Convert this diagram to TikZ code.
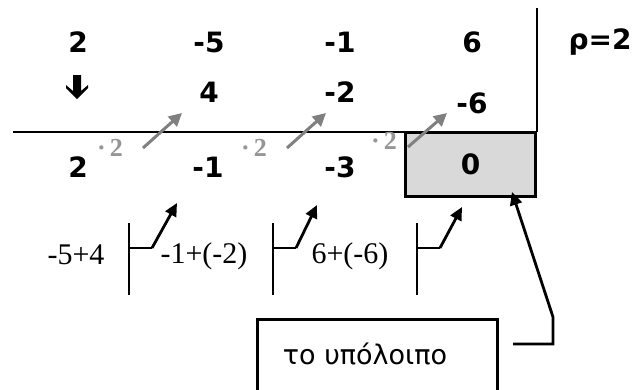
\documentclass[tikz,border=0pt]{standalone}
\usepackage{fontspec}
\setmainfont{Liberation Serif}
\newfontfamily\numfont{DejaVu Sans}
\newfontfamily\dvfont{DejaVu Sans}
\usetikzlibrary{arrows.meta}
\definecolor{arrgray}{RGB}{128,128,128}
\definecolor{lbgray}{RGB}{150,150,150}
\definecolor{boxgray}{RGB}{217,217,217}
\begin{document}
\begin{tikzpicture}[x=1pt,y=-1pt,
  num/.style={font=\numfont\bfseries\fontsize{28}{32}\selectfont, inner sep=0pt},
  mul/.style={font=\fontsize{26}{30}\selectfont\bfseries, text=lbgray, inner sep=0pt},
  sumlbl/.style={font=\fontsize{30}{34}\selectfont, inner sep=0pt},
  grayarr/.style={draw=arrgray, line width=3pt, -{Triangle[length=13pt,width=13pt]}},
  blackarr/.style={draw=black, line width=2.8pt, -{Triangle[length=13pt,width=12pt]}},
  bracket/.style={draw=black, line width=2.8pt},
  rule/.style={draw=black, line width=2.5pt}]
\useasboundingbox (0,0) rectangle (641,389);
% top row
\node[num] (t1) at (78,42) {2};
\node[num] (t2) at (209,42) {-5};
\node[num] (t3) at (340,42) {-1};
\node[num] (t4) at (472,42) {6};
\node[num] (rho) at (600,42) {ρ=2};
% middle row
\node[num] (m2) at (209,92) {4};
\node[num] (m3) at (340,92) {-2};
\node[num] (m4) at (472,103) {-6};
% down arrow
\fill (73,75) -- (81,75) -- (81,91) -- (88,85) -- (88,88) -- (77,99) -- (66,88) -- (66,85) -- (73,91) -- cycle;
% rules
\coordinate (hl) at (13,132);
\coordinate (hr) at (537,132);
\coordinate (vt) at (537,8);
\draw[rule] (hl) -- (hr);
\draw[rule] (vt) -- (hr);
% bottom row
\node[num] (b1) at (78,167) {2};
\node[num] (b2) at (208,167) {-1};
\node[num] (b3) at (340,167) {-3};
\node[num, draw=black, line width=3pt, fill=boxgray, minimum width=130pt, minimum height=64pt] (rem) at (470.5,164.5) {0};
% multipliers
\node[mul] (g1) at (110,148) {·\hspace{4pt}2};
\node[mul] (g2) at (254,148) {·\hspace{4pt}2};
\node[mul] (g3) at (384,141) {·\hspace{4pt}2};
% gray arrows
\coordinate (ga1s) at (143,148); \coordinate (ga1e) at (182,113);
\coordinate (ga2s) at (287,148); \coordinate (ga2e) at (326,113);
\coordinate (ga3s) at (408,147); \coordinate (ga3e) at (447,113);
\draw[grayarr] (ga1s) -- (ga1e);
\draw[grayarr] (ga2s) -- (ga2e);
\draw[grayarr] (ga3s) -- (ga3e);
% sum labels
\node[sumlbl] (l1) at (76,255) {-5+4};
\node[sumlbl] (l2) at (204,256) {-1+(-2)};
\node[sumlbl] (l3) at (350,256) {6+(-6)};
% brackets with arrows
\foreach \x/\tx/\ty/\n in {129/177/203/1, 273/317/205/2, 417/462/207/3}{
  \coordinate (bt\n) at (\x,223);
  \coordinate (bb\n) at (\x,295);
  \coordinate (bm\n) at (\x,248);
  \coordinate (bs\n) at (\x+23,248);
  \coordinate (bh\n) at (\tx,\ty);
  \draw[bracket] (bt\n) -- (bb\n);
  \draw[bracket] (bm\n) -- (bs\n);
  \draw[blackarr] (bs\n) -- (bh\n);
}
% remainder box
\node[font=\dvfont\fontsize{27}{32}\selectfont, inner sep=0pt] (rtext) at (365,354) {το υπόλοιπο};
\draw[black, line width=3pt] (257,395) -- (257,319) -- (497,319) -- (497,395);
\coordinate (c1) at (513,344);
\coordinate (c2) at (553,344);
\coordinate (c3) at (553,317);
\coordinate (c4) at (512,192);
\draw[blackarr] (c1) -- (c2) -- (c3) -- (c4);
\end{tikzpicture}
\end{document}
